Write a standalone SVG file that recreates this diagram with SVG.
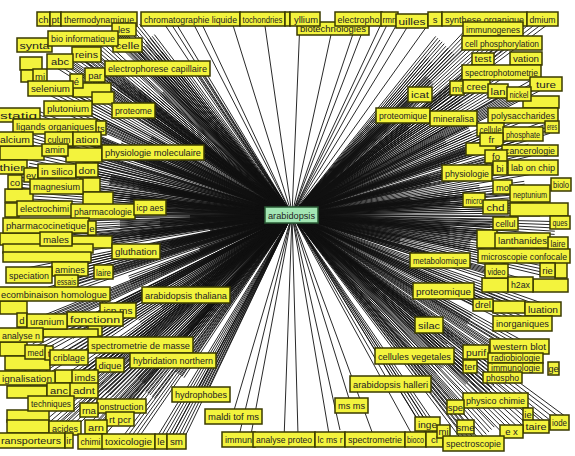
<svg xmlns="http://www.w3.org/2000/svg" width="575" height="456" viewBox="0 0 575 456">
<style>
#nodes rect{fill:#f3f33d;stroke:#3a3a00;stroke-width:1.5}
text{font-family:"Liberation Sans",Arial,sans-serif;font-size:9.5px;fill:#222;text-anchor:middle}
#n-arabidopsis rect{fill:#a3e6b4;stroke:#2a5a35;stroke-width:1.5}
</style>
<rect width="575" height="456" fill="#fff"/>
<g id="edges" transform="translate(292,215)" stroke="#111" stroke-width="0.9">
<g id="fanT">
<line x2="-127" y2="-190"/><line x2="-122" y2="-193"/><line x2="-115" y2="-190"/><line x2="-101" y2="-196"/><line x2="-92" y2="-195"/><line x2="-60" y2="-193"/><line x2="-28" y2="-196"/><line x2="8" y2="-195"/><line x2="40" y2="-185"/><line x2="71" y2="-185"/><line x2="66" y2="-196"/><line x2="90" y2="-193"/><line x2="98" y2="-196"/><line x2="106" y2="-193"/><line x2="119" y2="-194"/><line x2="140" y2="-196"/>
</g>
<g id="fanB">
<line x2="-60" y2="202"/><line x2="-54" y2="225"/><line x2="-42" y2="225"/><line x2="-8" y2="225"/><line x2="6" y2="220"/><line x2="38" y2="225"/><line x2="48" y2="215"/><line x2="83" y2="225"/><line x2="59" y2="190"/><line x2="123" y2="225"/><line x2="138" y2="225"/><line x2="98" y2="169"/><line x2="122" y2="140"/><line x2="136" y2="209"/>
</g>
<g id="fanL">
<line x2="-180" y2="-185"/><line x2="-172" y2="-179"/><line x2="-164" y2="-173"/><line x2="-157" y2="-187"/><line x2="-150" y2="-167"/><line x2="-142" y2="-177"/><line x2="-134" y2="-160"/><line x2="-192" y2="-170"/><line x2="-204" y2="-160"/><line x2="-217" y2="-153"/><line x2="-232" y2="-153"/><line x2="-206" y2="-160"/><line x2="-152" y2="-147"/><line x2="-135" y2="-147"/><line x2="-112" y2="-147"/><line x2="-97" y2="-147"/><line x2="-182" y2="-140"/><line x2="-197" y2="-135"/><line x2="-242" y2="-127"/><line x2="-222" y2="-130"/><line x2="-172" y2="-130"/><line x2="-152" y2="-125"/><line x2="-132" y2="-120"/><line x2="-224" y2="-107"/><line x2="-158" y2="-105"/><line x2="-142" y2="-100"/><line x2="-262" y2="-100"/><line x2="-237" y2="-89"/><line x2="-192" y2="-90"/><line x2="-207" y2="-77"/><line x2="-272" y2="-77"/><line x2="-234" y2="-77"/><line x2="-142" y2="-75"/><line x2="-172" y2="-70"/><line x2="-140" y2="-63"/><line x2="-232" y2="-65"/><line x2="-262" y2="-55"/><line x2="-235" y2="-44"/><line x2="-205" y2="-46"/><line x2="-277" y2="-35"/><line x2="-236" y2="-29"/><line x2="-182" y2="-35"/><line x2="-152" y2="-30"/><line x2="-132" y2="-25"/><line x2="-248" y2="-6"/><line x2="-189" y2="-3"/><line x2="-142" y2="-8"/><line x2="-162" y2="-15"/><line x2="-202" y2="-20"/><line x2="-272" y2="-20"/><line x2="-245" y2="10"/><line x2="-172" y2="10"/><line x2="-132" y2="7"/><line x2="-102" y2="3"/><line x2="-82" y2="15"/><line x2="-236" y2="23"/><line x2="-192" y2="25"/><line x2="-152" y2="20"/><line x2="-262" y2="30"/><line x2="-212" y2="32"/><line x2="-156" y2="36"/><line x2="-122" y2="30"/><line x2="-92" y2="35"/><line x2="-262" y2="59"/><line x2="-222" y2="53"/><line x2="-189" y2="57"/><line x2="-226" y2="66"/><line x2="-242" y2="78"/><line x2="-106" y2="80"/><line x2="-162" y2="65"/><line x2="-132" y2="55"/><line x2="-174" y2="96"/><line x2="-245" y2="106"/><line x2="-197" y2="104"/><line x2="-152" y2="107"/><line x2="-272" y2="120"/><line x2="-222" y2="118"/><line x2="-152" y2="130"/><line x2="-120" y2="145"/><line x2="-223" y2="142"/><line x2="-256" y2="135"/><line x2="-182" y2="150"/><line x2="-102" y2="115"/><line x2="-132" y2="90"/><line x2="-266" y2="164"/><line x2="-207" y2="161"/><line x2="-234" y2="174"/><line x2="-208" y2="175"/><line x2="-242" y2="188"/><line x2="-170" y2="191"/><line x2="-203" y2="195"/><line x2="-172" y2="204"/><line x2="-227" y2="212"/><line x2="-196" y2="212"/><line x2="-257" y2="225"/><line x2="-201" y2="225"/><line x2="-164" y2="226"/><line x2="-130" y2="226"/><line x2="-116" y2="226"/><line x2="-91" y2="179"/><line x2="-142" y2="180"/><line x2="-152" y2="165"/><line x2="-112" y2="160"/><line x2="-182" y2="180"/>
</g>
<use href="#fanL" transform="rotate(0.7)"/>
<use href="#fanL" transform="rotate(-0.7)"/>
<use href="#fanL" transform="rotate(1.4)"/>
<use href="#fanL" transform="rotate(-1.4)"/>
<g id="fanR">
<line x2="128" y2="-120"/><line x2="111" y2="-100"/><line x2="161" y2="-97"/><line x2="231" y2="-100"/><line x2="230" y2="-82"/><line x2="209" y2="-143"/><line x2="210" y2="-172"/><line x2="201" y2="-186"/><line x2="193" y2="-196"/><line x2="250" y2="-196"/><line x2="198" y2="-156"/><line x2="226" y2="-122"/><line x2="184" y2="-130"/><line x2="164" y2="-129"/><line x2="208" y2="-125"/><line x2="248" y2="-132"/><line x2="198" y2="-77"/><line x2="256" y2="-88"/><line x2="148" y2="-175"/><line x2="158" y2="-165"/><line x2="138" y2="-155"/><line x2="168" y2="-115"/><line x2="178" y2="-85"/><line x2="153" y2="-75"/><line x2="138" y2="-135"/><line x2="118" y2="-85"/><line x2="88" y2="-90"/><line x2="175" y2="-42"/><line x2="241" y2="-47"/><line x2="242" y2="-19"/><line x2="233" y2="-28"/><line x2="181" y2="-16"/><line x2="203" y2="-9"/><line x2="248" y2="-5"/><line x2="213" y2="7"/><line x2="231" y2="25"/><line x2="231" y2="41"/><line x2="204" y2="55"/><line x2="255" y2="55"/><line x2="148" y2="45"/><line x2="228" y2="69"/><line x2="151" y2="75"/><line x2="178" y2="-65"/><line x2="238" y2="-65"/><line x2="208" y2="-55"/><line x2="188" y2="-25"/><line x2="158" y2="-15"/><line x2="198" y2="15"/><line x2="158" y2="15"/><line x2="178" y2="30"/><line x2="118" y2="-15"/><line x2="138" y2="-35"/><line x2="108" y2="25"/><line x2="258" y2="29"/><line x2="263" y2="13"/><line x2="136" y2="109"/><line x2="230" y2="108"/><line x2="227" y2="131"/><line x2="183" y2="136"/><line x2="223" y2="141"/><line x2="223" y2="151"/><line x2="210" y2="162"/><line x2="203" y2="185"/><line x2="163" y2="191"/><line x2="181" y2="228"/><line x2="267" y2="207"/><line x2="173" y2="211"/><line x2="219" y2="216"/><line x2="243" y2="211"/><line x2="197" y2="217"/><line x2="148" y2="228"/><line x2="191" y2="89"/><line x2="216" y2="92"/><line x2="250" y2="95"/><line x2="178" y2="105"/><line x2="158" y2="125"/><line x2="198" y2="175"/><line x2="178" y2="165"/><line x2="148" y2="155"/>
</g>
<use href="#fanR" transform="rotate(0.7)"/>
<use href="#fanR" transform="rotate(-0.7)"/>
<use href="#fanR" transform="rotate(1.4)"/>
<use href="#fanR" transform="rotate(-1.4)"/>
</g>
<g id="nodes">
<rect id="f1" x="20" y="57" width="22" height="13"/><rect id="f2" x="21" y="70" width="14" height="12"/><rect id="f3" x="73" y="83" width="38" height="14"/><rect id="f4" x="92" y="92" width="22" height="12"/><rect id="f5" x="0" y="146" width="44" height="14"/><rect id="f6" x="66" y="148" width="36" height="14"/><rect id="f7" x="80" y="178" width="20" height="14"/><rect id="f8" x="5" y="189" width="28" height="13"/><rect id="f9" x="0" y="233" width="42" height="12"/><rect id="f10" x="72" y="236" width="40" height="12"/><rect id="f11" x="3" y="244" width="90" height="9"/><rect id="f12" x="3" y="252" width="88" height="10"/><rect id="f13" x="0" y="301" width="27" height="13"/><rect id="f14" x="0" y="342" width="27" height="14"/><rect id="f15" x="5" y="356" width="45" height="14"/><rect id="f16" x="88" y="318" width="14" height="18"/><rect id="f17" x="55" y="370" width="18" height="13"/><rect id="f18" x="7" y="386" width="40" height="12"/><rect id="f19" x="7" y="410" width="42" height="12"/><rect id="f20" x="7" y="420" width="42" height="13"/><rect id="f21" x="43" y="329" width="55" height="8"/><rect id="f22" x="83" y="192" width="30" height="13"/><rect id="f23" x="5" y="203" width="14" height="14"/>
<rect id="g1" x="477" y="230" width="20" height="18"/><rect id="g2" x="482" y="278" width="26" height="14"/><rect id="g3" x="533" y="279" width="35" height="13"/><rect id="g4" x="555" y="262" width="12" height="16"/><rect id="g5" x="466" y="143" width="30" height="12"/><rect id="g6" x="510" y="203" width="58" height="13"/><rect id="g7" x="493" y="301" width="32" height="12"/><rect id="g8" x="523" y="96" width="36" height="12"/>
<g id="n-ch"><rect x="37" y="12" width="13" height="14"/><text x="43.5" y="22.5">ch</text></g>
<g id="n-pt"><rect x="50" y="12" width="11" height="14"/><text x="55.5" y="22.5">pt</text></g>
<g id="n-thermodynamique"><rect x="61" y="12" width="76" height="14"/><text x="99" y="22.5" textLength="70" lengthAdjust="spacingAndGlyphs">thermodynamique</text></g>
<g id="n-chromatographie"><rect x="141" y="12" width="99" height="14"/><text x="190.5" y="22.5" textLength="93" lengthAdjust="spacingAndGlyphs">chromatographie liquide</text></g>
<g id="n-tochondries"><rect x="240" y="12" width="45" height="14"/><text x="262.5" y="22.5" textLength="40" lengthAdjust="spacingAndGlyphs">tochondries</text></g>
<g id="n-biotechnologies"><rect x="297" y="22" width="72" height="13"/><text x="333" y="32" textLength="66" lengthAdjust="spacingAndGlyphs">biotechnologies</text></g>
<g id="n-s1"><rect x="285" y="12" width="5" height="14"/></g>
<g id="n-yllium"><rect x="290" y="12" width="30" height="14"/><text x="306" y="22.5" textLength="24" lengthAdjust="spacingAndGlyphs">yllium</text></g>
<g id="n-electropho"><rect x="335" y="12" width="47" height="14"/><text x="358.5" y="22.5" textLength="42" lengthAdjust="spacingAndGlyphs">electropho</text></g>
<g id="n-rmn"><rect x="381" y="12" width="17" height="14"/><text x="389.5" y="22.5" textLength="14" lengthAdjust="spacingAndGlyphs">rmn</text></g>
<g id="n-uilles"><rect x="396" y="14" width="32" height="14"/><text x="412" y="24.5" textLength="27" lengthAdjust="spacingAndGlyphs">uilles</text></g>
<g id="n-s2"><rect x="428" y="12" width="14" height="14"/><text x="435" y="22.5">s</text></g>
<g id="n-synthese"><rect x="442" y="12" width="85" height="14"/><text x="484.5" y="22.5" textLength="79" lengthAdjust="spacingAndGlyphs">synthese organique</text></g>
<g id="n-dmium"><rect x="527" y="12" width="31" height="14"/><text x="542.5" y="22.5" textLength="26" lengthAdjust="spacingAndGlyphs">dmium</text></g>
<g id="n-les"><rect x="112" y="23" width="24" height="13"/><text x="124" y="33">les</text></g>
<g id="n-synta"><rect x="17" y="38" width="35" height="14"/><text x="34.5" y="48.5" textLength="30" lengthAdjust="spacingAndGlyphs">synta</text></g>
<g id="n-celle"><rect x="113" y="38" width="29" height="14"/><text x="127.5" y="48.5" textLength="24" lengthAdjust="spacingAndGlyphs">celle</text></g>
<g id="n-bioinformatique"><rect x="48" y="31" width="70" height="15"/><text x="83" y="42" textLength="64" lengthAdjust="spacingAndGlyphs">bio informatique</text></g>
<g id="n-reins"><rect x="72" y="47" width="29" height="15"/><text x="86.5" y="58" textLength="23" lengthAdjust="spacingAndGlyphs">reins</text></g>
<g id="n-mi1"><rect x="33" y="69" width="14" height="14"/><text x="40" y="79.5">mi</text></g>
<g id="n-par"><rect x="85" y="68" width="20" height="14"/><text x="95" y="78.5">par</text></g>
<g id="n-abc"><rect x="47" y="54" width="26" height="15"/><text x="60" y="65" textLength="18" lengthAdjust="spacingAndGlyphs">abc</text></g>
<g id="n-e1"><rect x="70" y="74" width="13" height="14"/><text x="76.5" y="84.5">é</text></g>
<g id="n-electrophorese"><rect x="105" y="61" width="105" height="15"/><text x="157.5" y="72" textLength="99" lengthAdjust="spacingAndGlyphs">electrophorese capillaire</text></g>
<g id="n-selenium"><rect x="28" y="81" width="45" height="15"/><text x="50.5" y="92" textLength="39" lengthAdjust="spacingAndGlyphs">selenium</text></g>
<g id="n-statiq"><rect x="-3" y="108" width="43" height="14"/><text x="18.5" y="118.5" textLength="37" lengthAdjust="spacingAndGlyphs">statiq</text></g>
<g id="n-plutonium"><rect x="44" y="101" width="48" height="15"/><text x="68" y="112" textLength="42" lengthAdjust="spacingAndGlyphs">plutonium</text></g>
<g id="n-proteome"><rect x="112" y="103" width="43" height="15"/><text x="133.5" y="114" textLength="37" lengthAdjust="spacingAndGlyphs">proteome</text></g>
<g id="n-ligands"><rect x="13" y="119" width="84" height="15"/><text x="55" y="130" textLength="78" lengthAdjust="spacingAndGlyphs">ligands organiques</text></g>
<g id="n-ts"><rect x="96" y="121" width="10" height="14"/><text x="101" y="131.5">ts</text></g>
<g id="n-alcium"><rect x="-3" y="132" width="36" height="14"/><text x="15" y="142.5" textLength="30" lengthAdjust="spacingAndGlyphs">alcium</text></g>
<g id="n-culum"><rect x="45" y="132" width="28" height="14"/><text x="59" y="142.5" textLength="23" lengthAdjust="spacingAndGlyphs">culum</text></g>
<g id="n-ation"><rect x="73" y="132" width="28" height="14"/><text x="87" y="142.5" textLength="23" lengthAdjust="spacingAndGlyphs">ation</text></g>
<g id="n-amin"><rect x="42" y="144" width="26" height="12"/><text x="55" y="153" textLength="20" lengthAdjust="spacingAndGlyphs">amin</text></g>
<g id="n-physiomol"><rect x="102" y="145" width="102" height="15"/><text x="153" y="156" textLength="96" lengthAdjust="spacingAndGlyphs">physiologie moleculaire</text></g>
<g id="n-thier"><rect x="-3" y="160" width="30" height="14"/><text x="12" y="170.5" textLength="25" lengthAdjust="spacingAndGlyphs">thier</text></g>
<g id="n-ev"><rect x="24" y="168" width="14" height="14"/><text x="31" y="178.5">ev</text></g>
<g id="n-insilico"><rect x="38" y="164" width="38" height="14"/><text x="57" y="174.5" textLength="32" lengthAdjust="spacingAndGlyphs">in silico</text></g>
<g id="n-don"><rect x="76" y="163" width="22" height="14"/><text x="87" y="173.5" textLength="17" lengthAdjust="spacingAndGlyphs">don</text></g>
<g id="n-co1"><rect x="8" y="175" width="14" height="14"/><text x="15" y="185.5">co</text></g>
<g id="n-magnesium"><rect x="30" y="179" width="53" height="15"/><text x="56.5" y="190" textLength="47" lengthAdjust="spacingAndGlyphs">magnesium</text></g>
<g id="n-electrochimi"><rect x="17" y="201" width="55" height="15"/><text x="44.5" y="212" textLength="49" lengthAdjust="spacingAndGlyphs">electrochimi</text></g>
<g id="n-pharmacologie"><rect x="71" y="204" width="64" height="15"/><text x="103" y="215" textLength="58" lengthAdjust="spacingAndGlyphs">pharmacologie</text></g>
<g id="n-icpaes"><rect x="134" y="200" width="32" height="15"/><text x="150" y="211" textLength="27" lengthAdjust="spacingAndGlyphs">icp aes</text></g>
<g id="n-pharmacocinetique"><rect x="3" y="218" width="86" height="15"/><text x="46" y="229" textLength="80" lengthAdjust="spacingAndGlyphs">pharmacocinetique</text></g>
<g id="n-e2"><rect x="88" y="221" width="8" height="14"/><text x="92" y="231.5">e</text></g>
<g id="n-males"><rect x="40" y="232" width="32" height="14"/><text x="56" y="242.5" textLength="26" lengthAdjust="spacingAndGlyphs">males</text></g>
<g id="n-gluthation"><rect x="112" y="244" width="48" height="15"/><text x="136" y="255" textLength="42" lengthAdjust="spacingAndGlyphs">gluthation</text></g>
<g id="n-amines"><rect x="52" y="262" width="36" height="14"/><text x="70" y="272.5" textLength="30" lengthAdjust="spacingAndGlyphs">amines</text></g>
<g id="n-laire1"><rect x="94" y="265" width="19" height="14"/><text x="103.5" y="275.5" textLength="15" lengthAdjust="spacingAndGlyphs">laire</text></g>
<g id="n-speciation"><rect x="6" y="267" width="46" height="16"/><text x="29" y="278.5" textLength="40" lengthAdjust="spacingAndGlyphs">speciation</text></g>
<g id="n-essais"><rect x="55" y="275" width="23" height="13"/><text x="66.5" y="285" textLength="19" lengthAdjust="spacingAndGlyphs">essais</text></g>
<g id="n-recombinaison"><rect x="-3" y="287" width="113" height="14"/><text x="54" y="297.5" textLength="106" lengthAdjust="spacingAndGlyphs">ecombinaison homologue</text></g>
<g id="n-thaliana"><rect x="142" y="287" width="88" height="16"/><text x="186" y="298.5" textLength="82" lengthAdjust="spacingAndGlyphs">arabidopsis thaliana</text></g>
<g id="n-icpms"><rect x="100" y="303" width="36" height="15"/><text x="118" y="314" textLength="29" lengthAdjust="spacingAndGlyphs">icp ms</text></g>
<g id="n-d"><rect x="17" y="313" width="10" height="14"/><text x="22" y="323.5">d</text></g>
<g id="n-fonctionn"><rect x="67" y="312" width="56" height="14"/><text x="95" y="322.5" textLength="50" lengthAdjust="spacingAndGlyphs">fonctionn</text></g>
<g id="n-uranium"><rect x="27" y="314" width="40" height="15"/><text x="47" y="325" textLength="34" lengthAdjust="spacingAndGlyphs">uranium</text></g>
<g id="n-analysen"><rect x="-3" y="328" width="46" height="14"/><text x="21" y="338.5" textLength="38" lengthAdjust="spacingAndGlyphs">analyse n</text></g>
<g id="n-specmasse"><rect x="88" y="337" width="105" height="16"/><text x="140.5" y="348.5" textLength="99" lengthAdjust="spacingAndGlyphs">spectrometrie de masse</text></g>
<g id="n-hybridation"><rect x="130" y="353" width="86" height="15"/><text x="173" y="364" textLength="80" lengthAdjust="spacingAndGlyphs">hybridation northern</text></g>
<g id="n-med"><rect x="25" y="345" width="21" height="14"/><text x="35.5" y="355.5" textLength="16" lengthAdjust="spacingAndGlyphs">med</text></g>
<g id="n-t1"><rect x="45" y="346" width="8" height="14"/><text x="49" y="356.5">t</text></g>
<g id="n-criblage"><rect x="50" y="350" width="38" height="15"/><text x="69" y="361" textLength="32" lengthAdjust="spacingAndGlyphs">criblage</text></g>
<g id="n-dique"><rect x="96" y="358" width="28" height="14"/><text x="110" y="368.5" textLength="23" lengthAdjust="spacingAndGlyphs">dique</text></g>
<g id="n-signalisation"><rect x="-3" y="371" width="58" height="14"/><text x="27" y="381.5" textLength="50" lengthAdjust="spacingAndGlyphs">ignalisation</text></g>
<g id="n-imds"><rect x="72" y="370" width="26" height="14"/><text x="85" y="380.5" textLength="21" lengthAdjust="spacingAndGlyphs">imds</text></g>
<g id="n-anc"><rect x="47" y="383" width="24" height="14"/><text x="59" y="393.5" textLength="18" lengthAdjust="spacingAndGlyphs">anc</text></g>
<g id="n-adnt"><rect x="70" y="383" width="28" height="15"/><text x="84" y="394" textLength="22" lengthAdjust="spacingAndGlyphs">adnt</text></g>
<g id="n-hydrophobes"><rect x="172" y="387" width="58" height="15"/><text x="201" y="398" textLength="52" lengthAdjust="spacingAndGlyphs">hydrophobes</text></g>
<g id="n-techniques"><rect x="28" y="396" width="46" height="15"/><text x="51" y="407" textLength="40" lengthAdjust="spacingAndGlyphs">techniques</text></g>
<g id="n-construction"><rect x="97" y="399" width="49" height="14"/><text x="121.5" y="409.5" textLength="44" lengthAdjust="spacingAndGlyphs">onstruction</text></g>
<g id="n-rna"><rect x="80" y="403" width="18" height="14"/><text x="89" y="413.5" textLength="14" lengthAdjust="spacingAndGlyphs">rna</text></g>
<g id="n-rtpcr"><rect x="106" y="412" width="28" height="14"/><text x="120" y="422.5" textLength="22" lengthAdjust="spacingAndGlyphs">rt pcr</text></g>
<g id="n-acides"><rect x="49" y="421" width="32" height="14"/><text x="65" y="431.5" textLength="26" lengthAdjust="spacingAndGlyphs">acides</text></g>
<g id="n-arn"><rect x="85" y="420" width="22" height="14"/><text x="96" y="430.5" textLength="16" lengthAdjust="spacingAndGlyphs">arn</text></g>
<g id="n-maldi"><rect x="205" y="409" width="57" height="15"/><text x="233.5" y="420" textLength="51" lengthAdjust="spacingAndGlyphs">maldi tof ms</text></g>
<g id="n-transporteurs"><rect x="-3" y="433" width="68" height="15"/><text x="31" y="444" textLength="60" lengthAdjust="spacingAndGlyphs">ransporteurs</text></g>
<g id="n-ir"><rect x="65" y="433" width="8" height="15"/><text x="69" y="444">ir</text></g>
<g id="n-chimi"><rect x="78" y="434" width="25" height="15"/><text x="90.5" y="445" textLength="20" lengthAdjust="spacingAndGlyphs">chimi</text></g>
<g id="n-toxicologie"><rect x="102" y="434" width="53" height="15"/><text x="128.5" y="445" textLength="47" lengthAdjust="spacingAndGlyphs">toxicologie</text></g>
<g id="n-le"><rect x="155" y="434" width="12" height="15"/><text x="161" y="445">le</text></g>
<g id="n-sm"><rect x="167" y="434" width="19" height="15"/><text x="176.5" y="445" textLength="13" lengthAdjust="spacingAndGlyphs">sm</text></g>
<g id="n-immun"><rect x="222" y="432" width="33" height="15"/><text x="238.5" y="443" textLength="27" lengthAdjust="spacingAndGlyphs">immun</text></g>
<g id="n-analyseproteo"><rect x="253" y="432" width="62" height="15"/><text x="284" y="443" textLength="56" lengthAdjust="spacingAndGlyphs">analyse proteo</text></g>
<g id="n-lcms"><rect x="315" y="432" width="30" height="15"/><text x="330" y="443" textLength="25" lengthAdjust="spacingAndGlyphs">lc ms r</text></g>
<g id="n-spectrometrie"><rect x="345" y="432" width="60" height="15"/><text x="375" y="443" textLength="54" lengthAdjust="spacingAndGlyphs">spectrometrie</text></g>
<g id="n-bioco"><rect x="405" y="432" width="21" height="15"/><text x="415.5" y="443" textLength="17" lengthAdjust="spacingAndGlyphs">bioco</text></g>
<g id="n-cl"><rect x="426" y="432" width="17" height="15"/><text x="434.5" y="443">cl</text></g>
<g id="n-msms"><rect x="335" y="398" width="33" height="15"/><text x="351.5" y="409" textLength="27" lengthAdjust="spacingAndGlyphs">ms ms</text></g>
<g id="n-halleri"><rect x="350" y="376" width="81" height="16"/><text x="390.5" y="387.5" textLength="75" lengthAdjust="spacingAndGlyphs">arabidopsis halleri</text></g>
<g id="n-cellulesveg"><rect x="375" y="348" width="79" height="16"/><text x="414.5" y="359.5" textLength="73" lengthAdjust="spacingAndGlyphs">cellules vegetales</text></g>
<g id="n-silac"><rect x="415" y="317" width="28" height="16"/><text x="429" y="328.5" textLength="22" lengthAdjust="spacingAndGlyphs">silac</text></g>
<g id="n-icat"><rect x="408" y="87" width="24" height="15"/><text x="420" y="98" textLength="18" lengthAdjust="spacingAndGlyphs">icat</text></g>
<g id="n-proteomique1"><rect x="376" y="108" width="54" height="15"/><text x="403" y="119" textLength="48" lengthAdjust="spacingAndGlyphs">proteomique</text></g>
<g id="n-immunogenes"><rect x="463" y="22" width="60" height="14"/><text x="493" y="32.5" textLength="54" lengthAdjust="spacingAndGlyphs">immunogenes</text></g>
<g id="n-cellphos"><rect x="462" y="36" width="80" height="14"/><text x="502" y="46.5" textLength="74" lengthAdjust="spacingAndGlyphs">cell phosphorylation</text></g>
<g id="n-test"><rect x="472" y="53" width="22" height="12"/><text x="483" y="62" textLength="17" lengthAdjust="spacingAndGlyphs">test</text></g>
<g id="n-vation"><rect x="510" y="52" width="32" height="13"/><text x="526" y="61.5" textLength="26" lengthAdjust="spacingAndGlyphs">vation</text></g>
<g id="n-spectrophoto"><rect x="462" y="65" width="79" height="15"/><text x="501.5" y="76" textLength="73" lengthAdjust="spacingAndGlyphs">spectrophotometrie</text></g>
<g id="n-ture"><rect x="530" y="77" width="32" height="14"/><text x="546" y="87.5" textLength="20" lengthAdjust="spacingAndGlyphs">ture</text></g>
<g id="n-mi2"><rect x="450" y="81" width="14" height="14"/><text x="457" y="91.5">mi</text></g>
<g id="n-cree"><rect x="463" y="80" width="27" height="13"/><text x="476.5" y="90" textLength="20" lengthAdjust="spacingAndGlyphs">cree</text></g>
<g id="n-lan"><rect x="488" y="84" width="20" height="14"/><text x="498" y="94.5" textLength="15" lengthAdjust="spacingAndGlyphs">lan</text></g>
<g id="n-nickel"><rect x="507" y="87" width="24" height="14"/><text x="519" y="97.5" textLength="19" lengthAdjust="spacingAndGlyphs">nickel</text></g>
<g id="n-polysaccharides"><rect x="488" y="108" width="70" height="15"/><text x="523" y="119" textLength="64" lengthAdjust="spacingAndGlyphs">polysaccharides</text></g>
<g id="n-mineralisa"><rect x="430" y="111" width="47" height="15"/><text x="453.5" y="122" textLength="41" lengthAdjust="spacingAndGlyphs">mineralisa</text></g>
<g id="n-cellule"><rect x="477" y="123" width="27" height="13"/><text x="490.5" y="132.5" textLength="22" lengthAdjust="spacingAndGlyphs">cellule</text></g>
<g id="n-eres"><rect x="545" y="121" width="14" height="12"/><text x="552" y="130" font-size="8" textLength="10" lengthAdjust="spacingAndGlyphs">eres</text></g>
<g id="n-phosphate"><rect x="503" y="127" width="40" height="14"/><text x="523" y="138" textLength="34" lengthAdjust="spacingAndGlyphs">phosphate</text></g>
<g id="n-fr"><rect x="480" y="133" width="23" height="13"/><text x="491.5" y="142.5">fr</text></g>
<g id="n-cancerologie"><rect x="502" y="145" width="56" height="11"/><text x="530" y="154" textLength="50" lengthAdjust="spacingAndGlyphs">cancerologie</text></g>
<g id="n-fo"><rect x="485" y="150" width="22" height="13"/><text x="496" y="160">fo</text></g>
<g id="n-labonchip"><rect x="508" y="160" width="50" height="15"/><text x="533" y="171" textLength="44" lengthAdjust="spacingAndGlyphs">lab on chip</text></g>
<g id="n-bi"><rect x="493" y="161" width="14" height="14"/><text x="500" y="171.5">bi</text></g>
<g id="n-physiologie"><rect x="442" y="165" width="50" height="16"/><text x="467" y="176.5" textLength="44" lengthAdjust="spacingAndGlyphs">physiologie</text></g>
<g id="n-mo"><rect x="493" y="180" width="19" height="14"/><text x="502.5" y="190.5" textLength="13" lengthAdjust="spacingAndGlyphs">mo</text></g>
<g id="n-biolo"><rect x="551" y="178" width="20" height="13"/><text x="561" y="188" textLength="16" lengthAdjust="spacingAndGlyphs">biolo</text></g>
<g id="n-micro"><rect x="463" y="193" width="22" height="14"/><text x="474" y="203.5" textLength="17" lengthAdjust="spacingAndGlyphs">micro</text></g>
<g id="n-neptunium"><rect x="510" y="185" width="40" height="17"/><text x="530" y="197.5" textLength="34" lengthAdjust="spacingAndGlyphs">neptunium</text></g>
<g id="n-chd"><rect x="483" y="200" width="25" height="14"/><text x="495.5" y="210.5" textLength="18" lengthAdjust="spacingAndGlyphs">chd</text></g>
<g id="n-cellul"><rect x="493" y="217" width="25" height="13"/><text x="505.5" y="227" textLength="20" lengthAdjust="spacingAndGlyphs">cellul</text></g>
<g id="n-ques"><rect x="550" y="216" width="20" height="13"/><text x="560" y="226" textLength="15" lengthAdjust="spacingAndGlyphs">ques</text></g>
<g id="n-lanthanides"><rect x="495" y="233" width="55" height="15"/><text x="522.5" y="244" textLength="49" lengthAdjust="spacingAndGlyphs">lanthanides</text></g>
<g id="n-laire2"><rect x="548" y="237" width="20" height="13"/><text x="558" y="247" textLength="15" lengthAdjust="spacingAndGlyphs">laire</text></g>
<g id="n-metabolomique"><rect x="410" y="253" width="60" height="15"/><text x="440" y="264" textLength="54" lengthAdjust="spacingAndGlyphs">metabolomique</text></g>
<g id="n-microscopie"><rect x="478" y="249" width="92" height="14"/><text x="524" y="259.5" textLength="86" lengthAdjust="spacingAndGlyphs">microscopie confocale</text></g>
<g id="n-video"><rect x="485" y="264" width="23" height="14"/><text x="496.5" y="274.5" textLength="18" lengthAdjust="spacingAndGlyphs">video</text></g>
<g id="n-rie"><rect x="540" y="263" width="15" height="14"/><text x="547.5" y="273.5">rie</text></g>
<g id="n-h2ax"><rect x="508" y="277" width="25" height="15"/><text x="520.5" y="288" textLength="19" lengthAdjust="spacingAndGlyphs">h2ax</text></g>
<g id="n-proteomique2"><rect x="413" y="283" width="61" height="16"/><text x="443.5" y="294.5" textLength="55" lengthAdjust="spacingAndGlyphs">proteomique</text></g>
<g id="n-drel"><rect x="473" y="299" width="20" height="12"/><text x="483" y="308">drel</text></g>
<g id="n-luation"><rect x="525" y="302" width="36" height="14"/><text x="543" y="312.5" textLength="30" lengthAdjust="spacingAndGlyphs">luation</text></g>
<g id="n-inorganiques"><rect x="493" y="316" width="59" height="15"/><text x="522.5" y="327" textLength="53" lengthAdjust="spacingAndGlyphs">inorganiques</text></g>
<g id="n-purif"><rect x="463" y="345" width="26" height="14"/><text x="476" y="355.5" textLength="20" lengthAdjust="spacingAndGlyphs">purif</text></g>
<g id="n-westernblot"><rect x="490" y="339" width="59" height="15"/><text x="519.5" y="350" textLength="53" lengthAdjust="spacingAndGlyphs">western blot</text></g>
<g id="n-radiobiologie"><rect x="488" y="353" width="55" height="10"/><text x="515.5" y="361" font-size="8" textLength="49" lengthAdjust="spacingAndGlyphs">radiobiologie</text></g>
<g id="n-immunologie"><rect x="488" y="363" width="55" height="10"/><text x="515.5" y="371" font-size="8" textLength="49" lengthAdjust="spacingAndGlyphs">immunologie</text></g>
<g id="n-ter"><rect x="463" y="360" width="14" height="13"/><text x="470" y="370">ter</text></g>
<g id="n-ge"><rect x="548" y="362" width="11" height="13"/><text x="553.5" y="372">ge</text></g>
<g id="n-phospho"><rect x="483" y="372" width="39" height="11"/><text x="502.5" y="381" textLength="33" lengthAdjust="spacingAndGlyphs">phospho</text></g>
<g id="n-physicochimie"><rect x="463" y="393" width="65" height="15"/><text x="495.5" y="404" textLength="59" lengthAdjust="spacingAndGlyphs">physico chimie</text></g>
<g id="n-spe"><rect x="447" y="400" width="17" height="14"/><text x="455.5" y="410.5">spe</text></g>
<g id="n-ie"><rect x="523" y="408" width="10" height="13"/><text x="528" y="418">ie</text></g>
<g id="n-inge"><rect x="415" y="417" width="25" height="14"/><text x="427.5" y="427.5" textLength="19" lengthAdjust="spacingAndGlyphs">inge</text></g>
<g id="n-sme"><rect x="457" y="420" width="17" height="14"/><text x="465.5" y="430.5">sme</text></g>
<g id="n-taire"><rect x="523" y="420" width="26" height="13"/><text x="536" y="430" textLength="21" lengthAdjust="spacingAndGlyphs">taire</text></g>
<g id="n-iode"><rect x="550" y="415" width="19" height="15"/><text x="559.5" y="426" textLength="15" lengthAdjust="spacingAndGlyphs">iode</text></g>
<g id="n-ex"><rect x="500" y="425" width="23" height="13"/><text x="511.5" y="435">e x</text></g>
<g id="n-mi3"><rect x="437" y="425" width="13" height="13"/><text x="443.5" y="435">mi</text></g>
<g id="n-spectroscopie"><rect x="443" y="436" width="61" height="15"/><text x="473.5" y="447" textLength="55" lengthAdjust="spacingAndGlyphs">spectroscopie</text></g>
</g>
<g id="n-arabidopsis"><rect x="265" y="207" width="53" height="16"/><text x="291.5" y="218.5" textLength="47" lengthAdjust="spacingAndGlyphs">arabidopsis</text></g>
</svg>
